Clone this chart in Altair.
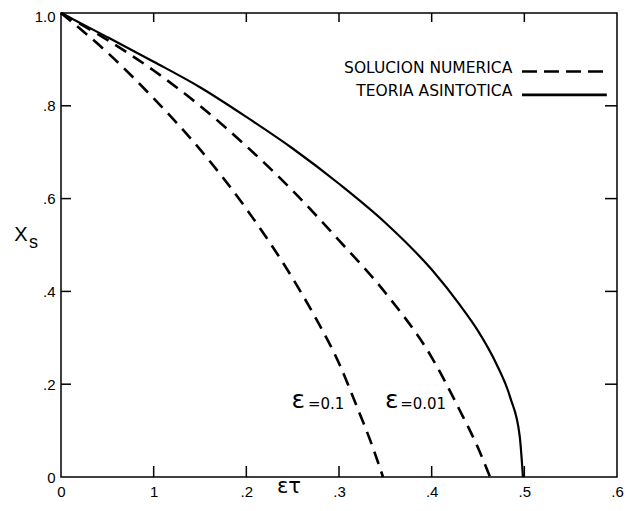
import altair as alt
import pandas as pd

W, H = 556, 464

# axis ticks and labels
x_ticks = [0, 0.1, 0.2, 0.3, 0.4, 0.5, 0.6]
x_tick_labels = ["0", "1", ".2", ".3", ".4", ".5", ".6"]
y_ticks = [0, 0.2, 0.4, 0.6, 0.8, 1.0]
y_tick_labels = ["0", ".2", ".4", ".6", ".8", "1.0"]
inner_x_ticks = [0.1, 0.2, 0.3, 0.4, 0.5]
inner_y_ticks = [0.2, 0.4, 0.6, 0.8]

# teoria asintotica (solid)
asym_x = [0.0, 0.05, 0.10, 0.15, 0.20, 0.25, 0.30, 0.35, 0.40, 0.43, 0.45, 0.47, 0.485, 0.495, 0.4985]
asym_y = [1.0, 0.948, 0.895, 0.840, 0.776, 0.708, 0.632, 0.548, 0.447, 0.372, 0.315, 0.243, 0.170, 0.088, 0.0]

# solucion numerica, eps = 0.01 (dashed)
num001_x = [0.0, 0.05, 0.10, 0.15, 0.20, 0.25, 0.30, 0.35, 0.40, 0.43, 0.45, 0.463]
num001_y = [1.0, 0.942, 0.876, 0.800, 0.713, 0.617, 0.510, 0.397, 0.258, 0.145, 0.063, 0.0]

# solucion numerica, eps = 0.1 (dashed)
num01_x = [0.0, 0.05, 0.10, 0.15, 0.20, 0.25, 0.275, 0.30, 0.32, 0.335, 0.3475]
num01_y = [1.0, 0.915, 0.816, 0.706, 0.578, 0.428, 0.342, 0.245, 0.148, 0.072, 0.0]

# legend
legend_labels = ["SOLUCION NUMERICA", "TEORIA ASINTOTICA"]
legend_text_x = [0.487, 0.487]
legend_text_y = [0.871, 0.821]
legend_line_x = [0.4975, 0.4975]
legend_line_x2 = [0.589, 0.589]
legend_line_y = [0.874, 0.8235]
legend_dash = ["dash", "solid"]

# curve labels
eps_sym_x = [0.2561, 0.357]
eps_sym_y = [0.166, 0.167]
eps_val_x = [0.2665, 0.366]
eps_val_y = [0.158, 0.158]
eps_val_text = ["=0.1", "=0.01"]

# axis titles
xtitle_x, xtitle_y, xtitle_text = [0.246], [-0.021], ["ετ"]
ytitle_x, ytitle_y, ytitle_text = [-0.0432], [0.522], ["X"]
ysub_x, ysub_y, ysub_text = [-0.0297], [0.505], ["s"]

xs = alt.Scale(domain=[0, 0.6], nice=False, zero=False)
ys = alt.Scale(domain=[0, 1], nice=False, zero=False)

x_label_expr = "[" + ",".join(f"'{l}'" for l in x_tick_labels) + "][round(datum.value*10)]"
y_label_expr = "[" + ",".join(f"'{l}'" for l in y_tick_labels) + "][round(datum.value*5)]"

x_axis = alt.Axis(values=x_ticks, labelExpr=x_label_expr, title=None, grid=False, ticks=False,
                  domain=False, labelPadding=7, labelFlush=False)
y_axis = alt.Axis(
    values=y_ticks, labelExpr=y_label_expr, title=None, grid=False, ticks=False,
    domain=False, labelPadding=6, labelFlush=False,
    labelBaseline={"condition": {"test": "datum.value >= 1", "value": "top"}, "value": "middle"},
    labelOffset={"condition": {"test": "datum.value >= 1", "value": -4}, "value": 0},
)


def X(field):
    return alt.X(field, type="quantitative", scale=xs, axis=x_axis)


def Y(field):
    return alt.Y(field, type="quantitative", scale=ys, axis=y_axis)


asym_df = pd.DataFrame({"x": asym_x, "y": asym_y})
num_df = pd.concat([
    pd.DataFrame({"x": num001_x, "y": num001_y, "eps": "0.01"}),
    pd.DataFrame({"x": num01_x, "y": num01_y, "eps": "0.1"}),
])

solid = alt.Chart(asym_df).mark_line(color="black", strokeWidth=2.2, interpolate="monotone").encode(
    x=X("x"), y=Y("y"))

dashed = alt.Chart(num_df).mark_line(color="black", strokeWidth=2.6, strokeDash=[13, 8],
                                      interpolate="monotone").encode(
    x=X("x"), y=Y("y"), detail="eps:N")

xt_df = pd.DataFrame({"v": inner_x_ticks})
yt_df = pd.DataFrame({"w": inner_y_ticks})
top_ticks = alt.Chart(xt_df).mark_rule(color="black", strokeWidth=1.5).encode(
    x=X("v"), y=alt.value(0), y2=alt.value(9))
bottom_ticks = alt.Chart(xt_df).mark_rule(color="black", strokeWidth=1.5).encode(
    x=X("v"), y=alt.value(H), y2=alt.value(H - 11))
left_ticks = alt.Chart(yt_df).mark_rule(color="black", strokeWidth=1.5).encode(
    y=Y("w"), x=alt.value(0), x2=alt.value(10))
right_ticks = alt.Chart(yt_df).mark_rule(color="black", strokeWidth=1.5).encode(
    y=Y("w"), x=alt.value(W), x2=alt.value(W - 12))

leg_df = pd.DataFrame({"label": legend_labels, "tx": legend_text_x, "ty": legend_text_y,
                       "lx": legend_line_x, "lx2": legend_line_x2, "ly": legend_line_y,
                       "dash": legend_dash})
leg_text = alt.Chart(leg_df).mark_text(align="right", baseline="alphabetic", font="DejaVu Sans",
                                        fontSize=15.5, color="black").encode(
    x=X("tx"), y=Y("ty"), text="label:N")
leg_dash = alt.Chart(leg_df[leg_df.dash == "dash"]).mark_rule(color="black", strokeWidth=2.4,
                                                              strokeDash=[15, 7]).encode(
    x=X("lx"), x2="lx2:Q", y=Y("ly"))
leg_solid = alt.Chart(leg_df[leg_df.dash == "solid"]).mark_rule(color="black", strokeWidth=2.6).encode(
    x=X("lx"), x2="lx2:Q", y=Y("ly"))

eps_df = pd.DataFrame({"sx": eps_sym_x, "sy": eps_sym_y, "vx": eps_val_x, "vy": eps_val_y,
                       "val": eps_val_text, "sym": ["ε", "ε"]})
eps_sym = alt.Chart(eps_df).mark_text(align="center", baseline="middle", font="DejaVu Sans",
                                       fontSize=25, color="black").encode(
    x=X("sx"), y=Y("sy"), text="sym:N")
eps_val = alt.Chart(eps_df).mark_text(align="left", baseline="middle", font="DejaVu Sans",
                                       fontSize=15, color="black").encode(
    x=X("vx"), y=Y("vy"), text="val:N")


def label_layer(xv, yv, tv, size, font="DejaVu Sans"):
    d = pd.DataFrame({"lx0": xv, "ly0": yv, "t": tv})
    return alt.Chart(d).mark_text(align="center", baseline="middle", font=font, fontSize=size,
                                  color="black").encode(
        x=X("lx0"), y=Y("ly0"), text="t:N")


xtitle = label_layer(xtitle_x, xtitle_y, xtitle_text, 21)
ytitle = label_layer(ytitle_x, ytitle_y, ytitle_text, 20, "Liberation Sans")
ysub = label_layer(ysub_x, ysub_y, ysub_text, 18, "Liberation Sans")

chart = alt.layer(
    solid, dashed, top_ticks, bottom_ticks, left_ticks, right_ticks,
    leg_text, leg_dash, leg_solid, eps_sym, eps_val, xtitle, ytitle, ysub,
).properties(
    width=W, height=H,
    autosize=alt.AutoSizeParams(type="none"),
    padding={"left": 53, "top": 5, "right": 7, "bottom": 23},
    background="white",
).configure_view(
    stroke="black", strokeWidth=1.5,
).configure_axis(
    labelFont="Liberation Sans", labelFontSize=15, labelColor="black",
)

chart.save("out.html", embed_options={"renderer": "svg", "actions": False})
